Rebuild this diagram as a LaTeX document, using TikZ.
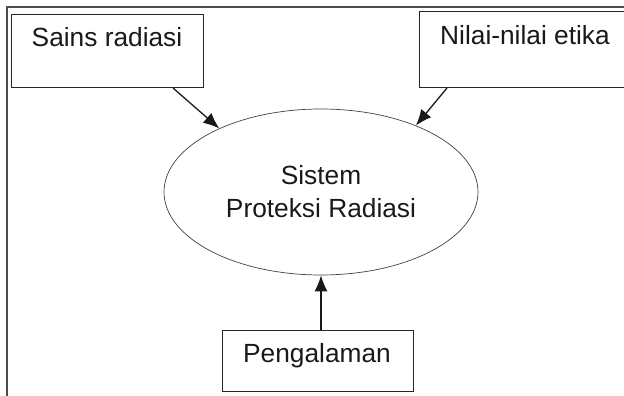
\documentclass[tikz,border=0pt]{standalone}
\usepackage{fontspec}
\setmainfont{Liberation Sans}
\usetikzlibrary{shapes.geometric,arrows.meta}
\begin{document}
\begin{tikzpicture}[x=1pt,y=1pt,
  box/.style={draw=black!85,line width=1.1pt,inner sep=0pt,anchor=south west},
  lbl/.style={anchor=base,inner sep=0pt,text=black!90,font=\fontsize{26.3}{33}\selectfont},
  arr/.style={draw=black!90,line width=1.3pt,-{Latex[length=16pt,width=13pt]}}]
\useasboundingbox (0,0) rectangle (624,396);
% outer frame
\draw[gray!60!black,line width=1.3pt] (7,0) -- (7,389) -- (630,389);
% boxes
\node[box,minimum width=192pt,minimum height=73pt] (b1) at (11,308) {};
\node[box,minimum width=221pt,minimum height=76pt] (b2) at (419,308) {};
\node[box,minimum width=191pt,minimum height=61pt] (b3) at (222,4) {};
\node[lbl] (t1) at (107,349) {Sains radiasi};
\node[lbl] (t2) at (525,351) {Nilai-nilai etika};
\node[lbl] (t3) at (317,33) {Pengalaman};
% ellipse
\node[ellipse,draw=black!75,line width=0.7pt,minimum width=314pt,minimum height=166pt,inner sep=0pt,
  align=center,text=black!90,font=\fontsize{26.3}{33}\selectfont] (e) at (321,204) {Sistem\\Proteksi Radiasi};
% connectors
\coordinate (s1) at (173,308);
\coordinate (s2) at (447,308);
\draw[arr] (s1) -- (e.148);
\draw[arr] (s2) -- (e.35);
\draw[arr] (b3.north -| e.south) -- (e.south);
\end{tikzpicture}
\end{document}
